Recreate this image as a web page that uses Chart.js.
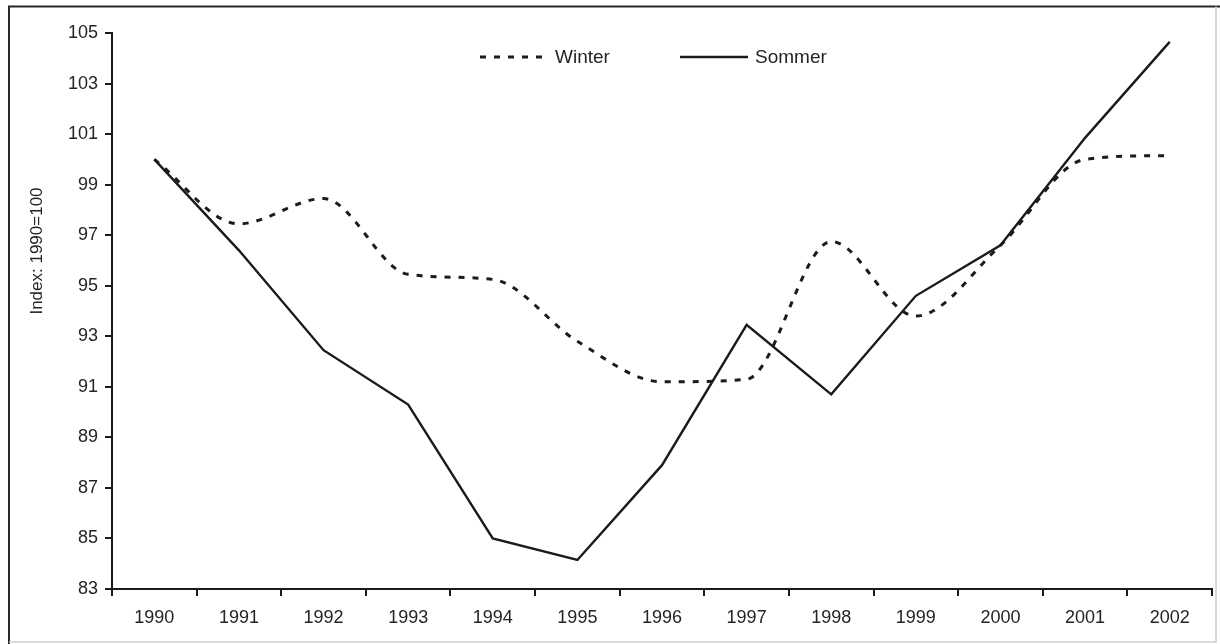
<!DOCTYPE html>
<html>
<head>
<meta charset="utf-8">
<script src="https://cdn.jsdelivr.net/npm/chart.js@4.4.1/dist/chart.umd.min.js"></script>
<style>
  html, body { margin: 0; padding: 0; background: #ffffff; }
  #wrap { position: relative; width: 1220px; height: 644px; }
  canvas { display: block; }
</style>
</head>
<body>
<div id="wrap"><canvas id="c" width="1220" height="644"></canvas></div>
<script>
// ---- Data ----
const years = ['1990','1991','1992','1993','1994','1995','1996','1997','1998','1999','2000','2001','2002'];
const winter = [100.0, 97.45, 98.45, 95.45, 95.25, 92.8, 91.2, 91.3, 96.75, 93.8, 96.6, 100.0, 100.15];
const sommer = [100.0, 96.4, 92.45, 90.3, 85.0, 84.15, 87.9, 93.45, 90.7, 94.6, 96.6, 100.85, 104.65];
const seriesNames = ['Winter', 'Sommer'];
const yAxisTitle = 'Index: 1990=100';
const yMin = 83, yMax = 105, yStep = 2;

const INK = '#1c1a1e';
const TEXT = '#262228';
const FONT = "'Liberation Sans', Arial, Helvetica, sans-serif";

const framePlugin = {
  id: 'frame',
  beforeDraw(chart) {
    const ctx = chart.ctx;
    ctx.save();
    ctx.fillStyle = '#ffffff';
    ctx.fillRect(0, 0, chart.width, chart.height);
    ctx.strokeStyle = '#2a2430';
    ctx.lineWidth = 2;
    ctx.beginPath();
    ctx.moveTo(9, 644);
    ctx.lineTo(9, 6.5);
    ctx.lineTo(1220, 6.5);
    ctx.stroke();
    ctx.strokeStyle = '#cfcfcf';
    ctx.lineWidth = 1.5;
    ctx.beginPath();
    ctx.moveTo(1216, 6.5);
    ctx.lineTo(1216, 642);
    ctx.lineTo(9, 642);
    ctx.stroke();
    ctx.restore();
  }
};

const yTitlePlugin = {
  id: 'yTitle',
  afterDraw(chart) {
    const ctx = chart.ctx;
    ctx.save();
    ctx.translate(37, 251);
    ctx.rotate(-Math.PI / 2);
    ctx.fillStyle = TEXT;
    ctx.font = '17px ' + FONT;
    ctx.textAlign = 'center';
    ctx.textBaseline = 'middle';
    ctx.fillText(yAxisTitle, 0, 0);
    ctx.restore();
  }
};

const legendPlugin = {
  id: 'inlineLegend',
  afterDatasetsDraw(chart) {
    const ctx = chart.ctx;
    const items = [
      { ds: chart.data.datasets[0], x0: 480, x1: 543, tx: 555 },
      { ds: chart.data.datasets[1], x0: 680, x1: 748, tx: 755 }
    ];
    const y = 57;
    ctx.save();
    items.forEach(it => {
      ctx.strokeStyle = it.ds.borderColor;
      ctx.lineWidth = it.ds.borderWidth;
      ctx.setLineDash(it.ds.borderDash || []);
      ctx.lineCap = 'butt';
      ctx.beginPath();
      ctx.moveTo(it.x0, y);
      ctx.lineTo(it.x1, y);
      ctx.stroke();
      ctx.setLineDash([]);
      ctx.fillStyle = TEXT;
      ctx.font = '19px ' + FONT;
      ctx.textAlign = 'left';
      ctx.textBaseline = 'middle';
      ctx.fillText(it.ds.label, it.tx, y + 1);
    });
    ctx.restore();
  }
};

new Chart(document.getElementById('c'), {
  type: 'line',
  data: {
    labels: years,
    datasets: [
      {
        label: seriesNames[0],
        data: winter,
        borderColor: INK,
        borderWidth: 3,
        borderDash: [6, 8],
        borderCapStyle: 'butt',
        cubicInterpolationMode: 'monotone',
        pointRadius: 0,
        fill: false
      },
      {
        label: seriesNames[1],
        data: sommer,
        borderColor: INK,
        borderWidth: 2.4,
        tension: 0,
        pointRadius: 0,
        fill: false
      }
    ]
  },
  options: {
    responsive: false,
    animation: false,
    devicePixelRatio: 1,
    layout: { padding: { left: 0, top: 33, right: 8, bottom: 0 } },
    plugins: {
      legend: { display: false },
      tooltip: { enabled: false },
      title: { display: false }
    },
    scales: {
      x: {
        type: 'category',
        offset: true,
        afterFit(s) { s.height = 55; },
        grid: {
          offset: true,
          drawOnChartArea: false,
          drawTicks: true,
          tickLength: 7,
          color: INK,
          lineWidth: 2
        },
        border: { display: true, color: INK, width: 2 },
        ticks: {
          color: TEXT,
          font: { family: FONT, size: 18 },
          padding: 11,
          maxRotation: 0,
          autoSkip: false
        }
      },
      y: {
        min: yMin,
        max: yMax,
        afterFit(s) { s.width = 112; },
        grid: {
          drawOnChartArea: false,
          drawTicks: true,
          tickLength: 7,
          color: INK,
          lineWidth: 2
        },
        border: { display: true, color: INK, width: 2 },
        ticks: {
          stepSize: yStep,
          color: TEXT,
          font: { family: FONT, size: 18 },
          padding: 7
        },
        title: { display: false }
      }
    }
  },
  plugins: [framePlugin, yTitlePlugin, legendPlugin]
});
</script>
</body>
</html>
